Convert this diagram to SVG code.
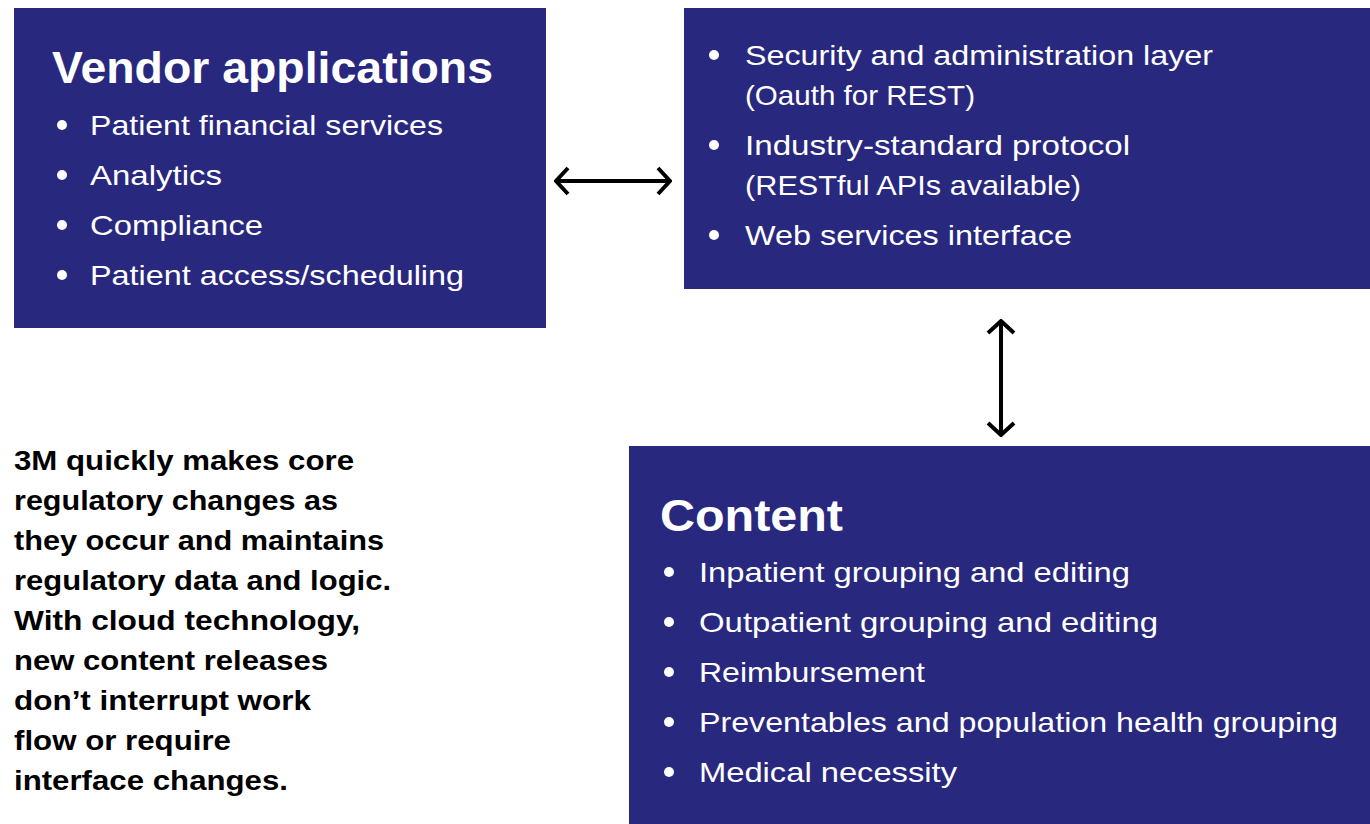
<svg xmlns="http://www.w3.org/2000/svg" width="1370" height="824" viewBox="0 0 1370 824">
<style>
.box{fill:#29287f}
.title{font-family:"Liberation Sans",Arial,sans-serif;font-weight:bold;font-size:45px;fill:#fff}
.item{font-family:"Liberation Sans",Arial,sans-serif;font-size:28px;fill:#fff}
.dot{fill:#fff}
.note{font-family:"Liberation Sans",Arial,sans-serif;font-weight:bold;font-size:27px;fill:#000}
.conn{stroke:#000;stroke-width:4;fill:none;marker-start:url(#head);marker-end:url(#head)}
</style>
<defs>
<marker id="head" viewBox="0 0 16 30" refX="15" refY="15" markerWidth="16" markerHeight="30" markerUnits="userSpaceOnUse" orient="auto-start-reverse">
<path d="M2,2 L14,15 L2,28" fill="none" stroke="#000" stroke-width="4"/>
</marker>
</defs>
<rect width="1370" height="824" fill="#fff"/>

<g id="vendor">
<rect class="box" x="14" y="8" width="532" height="320"/>
<text class="title" x="52" y="83" textLength="441" lengthAdjust="spacingAndGlyphs">Vendor applications</text>
<circle class="dot" cx="62" cy="125" r="5"/>
<text class="item" x="90" y="135" textLength="353" lengthAdjust="spacingAndGlyphs">Patient financial services</text>
<circle class="dot" cx="62" cy="175" r="5"/>
<text class="item" x="90" y="185" textLength="132" lengthAdjust="spacingAndGlyphs">Analytics</text>
<circle class="dot" cx="62" cy="225" r="5"/>
<text class="item" x="90" y="235" textLength="173" lengthAdjust="spacingAndGlyphs">Compliance</text>
<circle class="dot" cx="62" cy="275" r="5"/>
<text class="item" x="90" y="285" textLength="374" lengthAdjust="spacingAndGlyphs">Patient access/scheduling</text>
</g>

<g id="interface">
<rect class="box" x="684" y="8" width="686" height="281"/>
<circle class="dot" cx="714" cy="55" r="5"/>
<text class="item" x="745" y="65" textLength="468" lengthAdjust="spacingAndGlyphs">Security and administration layer</text>
<text class="item" x="745" y="105" textLength="230" lengthAdjust="spacingAndGlyphs">(Oauth for REST)</text>
<circle class="dot" cx="714" cy="145" r="5"/>
<text class="item" x="745" y="155" textLength="385" lengthAdjust="spacingAndGlyphs">Industry-standard protocol</text>
<text class="item" x="745" y="195" textLength="336" lengthAdjust="spacingAndGlyphs">(RESTful APIs available)</text>
<circle class="dot" cx="714" cy="235" r="5"/>
<text class="item" x="745" y="245" textLength="327" lengthAdjust="spacingAndGlyphs">Web services interface</text>
</g>

<g id="content">
<rect class="box" x="629" y="446" width="741" height="378"/>
<text class="title" x="660" y="531" textLength="183" lengthAdjust="spacingAndGlyphs">Content</text>
<circle class="dot" cx="669" cy="572" r="5"/>
<text class="item" x="699" y="582" textLength="431" lengthAdjust="spacingAndGlyphs">Inpatient grouping and editing</text>
<circle class="dot" cx="669" cy="622" r="5"/>
<text class="item" x="699" y="632" textLength="459" lengthAdjust="spacingAndGlyphs">Outpatient grouping and editing</text>
<circle class="dot" cx="669" cy="672" r="5"/>
<text class="item" x="699" y="682" textLength="226" lengthAdjust="spacingAndGlyphs">Reimbursement</text>
<circle class="dot" cx="669" cy="722" r="5"/>
<text class="item" x="699" y="732" textLength="639" lengthAdjust="spacingAndGlyphs">Preventables and population health grouping</text>
<circle class="dot" cx="669" cy="772" r="5"/>
<text class="item" x="699" y="782" textLength="258" lengthAdjust="spacingAndGlyphs">Medical necessity</text>
</g>

<g id="note">
<text class="note" x="14" y="470" textLength="340" lengthAdjust="spacingAndGlyphs">3M quickly makes core</text>
<text class="note" x="14" y="510" textLength="324" lengthAdjust="spacingAndGlyphs">regulatory changes as</text>
<text class="note" x="14" y="550" textLength="370" lengthAdjust="spacingAndGlyphs">they occur and maintains</text>
<text class="note" x="14" y="590" textLength="377" lengthAdjust="spacingAndGlyphs">regulatory data and logic.</text>
<text class="note" x="14" y="630" textLength="346" lengthAdjust="spacingAndGlyphs">With cloud technology,</text>
<text class="note" x="14" y="670" textLength="314" lengthAdjust="spacingAndGlyphs">new content releases</text>
<text class="note" x="14" y="710" textLength="297" lengthAdjust="spacingAndGlyphs">don’t interrupt work</text>
<text class="note" x="14" y="750" textLength="217" lengthAdjust="spacingAndGlyphs">flow or require</text>
<text class="note" x="14" y="790" textLength="274" lengthAdjust="spacingAndGlyphs">interface changes.</text>
</g>

<g id="connectors">
<line class="conn" x1="555" y1="181" x2="671" y2="181"/>
<line class="conn" x1="1001" y1="320" x2="1001" y2="436"/>
</g>
</svg>
